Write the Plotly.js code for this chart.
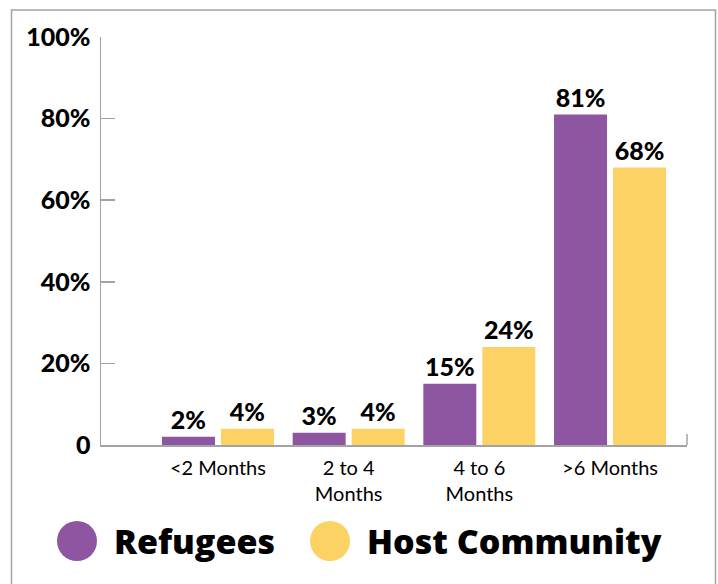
<!DOCTYPE html>
<html>
<head>
<meta charset="utf-8">
<script src="https://cdn.plot.ly/plotly-3.0.1.min.js"></script>
<style>
  html, body { margin: 0; padding: 0; background: #fff; }
  #chart { width: 718px; height: 584px; }
</style>
</head>
<body>
<div id="chart"></div>
<script>
const categories = ["<2 Months", "2 to 4<br>Months", "4 to 6<br>Months", ">6 Months"];
const refugees = [2, 3, 15, 81];
const hostCommunity = [4, 4, 24, 68];
const seriesNames = ["Refugees", "Host Community"];
const yTickVals = [0, 20, 40, 60, 80, 100];
const yTickText = ["0", "20%", "40%", "60%", "80%", "100%"];

const purple = "#8E55A0";
const yellow = "#FCD264";
const axisGray = "#A3A3A3";
const fontFam = "Lato, 'Open Sans', sans-serif";
const legendFam = "'Open Sans', Lato, sans-serif";

const labelFont = { family: fontFam, size: 25, color: "#000", weight: 900 };

const idx = categories.map((_, i) => i);

const traces = [
  {
    type: "bar", name: seriesNames[0], x: idx, y: refugees,
    marker: { color: purple },
    texttemplate: "%{y}%", textposition: "outside", cliponaxis: false,
    textfont: labelFont, hoverinfo: "none"
  },
  {
    type: "bar", name: seriesNames[1], x: idx, y: hostCommunity,
    marker: { color: yellow },
    texttemplate: "%{y}%", textposition: "outside", cliponaxis: false,
    textfont: labelFont, hoverinfo: "none"
  }
];

const plotL = 101, plotW = 586, plotT = 37, plotH = 408;
const px = v => (v - plotL) / plotW;
const py = v => (plotT + plotH - v) / plotH;

const legendY = py(541);

const layout = {
  width: 718, height: 584,
  margin: { l: plotL, r: 718 - plotL - plotW, t: plotT, b: 584 - plotT - plotH },
  paper_bgcolor: "#fff", plot_bgcolor: "#fff",
  showlegend: false,
  barmode: "group",
  bargap: 0.097,
  bargroupgap: 0.102,
  xaxis: {
    range: [-0.895, 3.589],
    tickmode: "array", tickvals: idx, ticktext: categories,
    showgrid: false, zeroline: false,
    showline: true, linecolor: axisGray, linewidth: 1.5,
    ticks: "", ticklabelstandoff: 4,
    tickfont: { family: fontFam, size: 20, color: "#000" },
    fixedrange: true
  },
  yaxis: {
    range: [0, 100],
    tickmode: "array", tickvals: yTickVals, ticktext: yTickText,
    showgrid: false, zeroline: false,
    showline: true, linecolor: axisGray, linewidth: 1.5,
    ticks: "inside", ticklen: 14, tickwidth: 1.5, tickcolor: axisGray,
    ticklabelstandoff: 4,
    tickfont: { family: fontFam, size: 25, color: "#000", weight: 900 },
    fixedrange: true
  },
  shapes: [
    { type: "rect", xref: "paper", yref: "paper",
      x0: px(11.5), x1: px(715.5), y0: py(620), y1: py(10),
      line: { color: axisGray, width: 1.5 }, fillcolor: "rgba(0,0,0,0)", layer: "below" },
    { type: "line", xref: "paper", yref: "paper",
      x0: 1, x1: 1, y0: 0, y1: 11 / plotH,
      line: { color: axisGray, width: 1.5 } },
    { type: "circle", xref: "paper", yref: "paper",
      xsizemode: "pixel", ysizemode: "pixel",
      xanchor: px(77), yanchor: legendY, x0: -20, x1: 20, y0: -20, y1: 20,
      fillcolor: purple, line: { width: 0 } },
    { type: "circle", xref: "paper", yref: "paper",
      xsizemode: "pixel", ysizemode: "pixel",
      xanchor: px(330), yanchor: legendY, x0: -20, x1: 20, y0: -20, y1: 20,
      fillcolor: yellow, line: { width: 0 } }
  ],
  annotations: [
    { xref: "paper", yref: "paper", x: px(112), y: legendY,
      xanchor: "left", yanchor: "middle", showarrow: false,
      text: seriesNames[0],
      font: { family: legendFam, size: 34, color: "#000", weight: 800 } },
    { xref: "paper", yref: "paper", x: px(365), y: legendY,
      xanchor: "left", yanchor: "middle", showarrow: false,
      text: seriesNames[1],
      font: { family: legendFam, size: 34, color: "#000", weight: 800 } }
  ]
};

Plotly.newPlot("chart", traces, layout, { displayModeBar: false, staticPlot: true });
</script>
</body>
</html>
